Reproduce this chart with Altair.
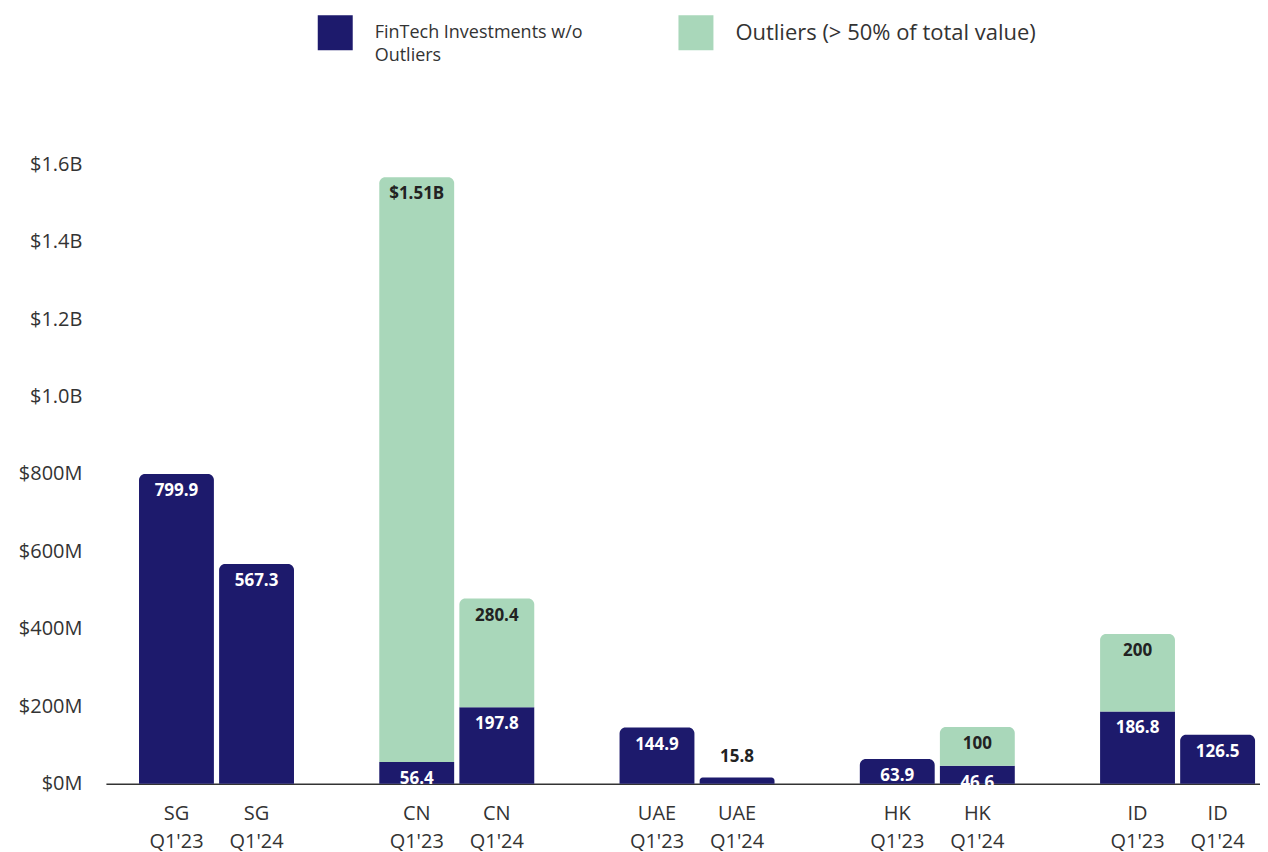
import altair as alt
import pandas as pd

countries = ["SG", "SG", "CN", "CN", "UAE", "UAE", "HK", "HK", "ID", "ID"]
quarters = ["Q1'23", "Q1'24"] * 5
base_vals = [799.9, 567.3, 56.4, 197.8, 144.9, 15.8, 63.9, 46.6, 186.8, 126.5]
outlier_vals = [0, 0, 1510, 280.4, 0, 0, 0, 100, 200, 0]
outlier_labels = ["", "", "$1.51B", "280.4", "", "", "", "100", "200", ""]
series_names = ["FinTech Investments w/o Outliers", "Outliers (> 50% of total value)"]
y_ticks = [0, 200, 400, 600, 800, 1000, 1200, 1400, 1600]

DARK = "#1d1a6c"
GREEN = "#a9d7ba"

# x domain with spacer slots between country groups
domain = []
seen = []
for c, q in zip(countries, quarters):
    if c not in seen:
        if seen:
            domain.append("gap" + str(len(seen)))
        seen.append(c)
    domain.append(c + "|" + q)

rows = []
for c, q, b, o, ol in zip(countries, quarters, base_vals, outlier_vals, outlier_labels):
    key = c + "|" + q
    rows.append(dict(key=key, series=series_names[0], lo=0, hi=b,
                     label=f"{b:g}", has_out=1 if o > 0 else 0, part="base"))
    if o > 0:
        rows.append(dict(key=key, series=series_names[1], lo=b, hi=b + o,
                         label=ol, has_out=1, part="out"))
df = pd.DataFrame(rows)

x_enc = alt.X("key:N", scale=alt.Scale(domain=domain, paddingInner=0.065,
                                       paddingOuter=0.2375, align=0.87),
              axis=alt.Axis(title=None, ticks=False, labelAngle=0, labelPadding=20,
                            labelFontSize=20, labelColor="#333333", labelFont="Open Sans",
                            labelLineHeight=28, domainColor="#333333", domainWidth=1.5,
                            labelExpr="indexof(datum.value, '|') > 0 ? split(datum.value, '|') : ''"))
y_enc = alt.Y("hi:Q", scale=alt.Scale(domain=[0, 1600]),
              axis=alt.Axis(title=None, values=y_ticks, grid=False, domain=False, ticks=False,
                            labelPadding=24, labelFontSize=20, labelColor="#333333",
                            labelFont="Open Sans",
                            labelExpr="datum.value >= 1000 ? '$' + format(datum.value/1000, '.1f') + 'B' : '$' + datum.value + 'M'"))

legend_common = dict(title=None, orient="none", symbolType="square", symbolSize=1225,
                     symbolStrokeWidth=0, symbolOpacity=1, labelColor="#333333",
                     labelFont="Open Sans", labelOffset=22, labelLimit=400)

color_dark = alt.Color("series:N", scale=alt.Scale(domain=[series_names[0]], range=[DARK]),
                       legend=alt.Legend(legendX=212, legendY=-149, labelFontSize=18,
                                         labelExpr="['FinTech Investments w/o', 'Outliers']",
                                         **legend_common))
color_dark_nolegend = alt.Color("series:N", scale=alt.Scale(domain=[series_names[0]], range=[DARK]),
                                legend=None)
color_green = alt.Color("series:N", scale=alt.Scale(domain=[series_names[1]], range=[GREEN]),
                        legend=alt.Legend(legendX=573, legendY=-149, labelFontSize=22,
                                          **legend_common))

base = alt.Chart(df).encode(x=x_enc)

dark_round = base.transform_filter("datum.part == 'base' && datum.has_out == 0").mark_bar(
    cornerRadiusTopLeft=6, cornerRadiusTopRight=6).encode(y=y_enc, y2="lo:Q", color=color_dark)
dark_flat = base.transform_filter("datum.part == 'base' && datum.has_out == 1").mark_bar().encode(
    y=y_enc, y2="lo:Q", color=color_dark_nolegend)
green = base.transform_filter("datum.part == 'out'").mark_bar(
    cornerRadiusTopLeft=6, cornerRadiusTopRight=6).encode(y=y_enc, y2="lo:Q", color=color_green)

txt_in = base.transform_filter("datum.part == 'base' && datum.hi >= 40").mark_text(
    baseline="top", dy=9, fontSize=17, fontWeight="bold", font="Open Sans", color="white"
).encode(y="hi:Q", text="label:N")
txt_above = base.transform_filter("datum.part == 'base' && datum.hi < 40").mark_text(
    baseline="bottom", dy=-12, fontSize=17, fontWeight="bold", font="Open Sans", color="#222222"
).encode(y="hi:Q", text="label:N")
txt_out = base.transform_filter("datum.part == 'out'").mark_text(
    baseline="top", dy=9, fontSize=17, fontWeight="bold", font="Open Sans", color="#222222"
).encode(y="hi:Q", text="label:N")

chart = alt.layer(dark_round, dark_flat, green, txt_in, txt_above, txt_out).resolve_scale(
    color="independent"
).properties(
    width=1155, height=620, padding={"left": 10, "top": 7, "right": 0, "bottom": 5}
).configure(
    style={"guide-label": {"lineHeight": 23}}
).configure_view(stroke=None)

chart.save("out.html", embed_options={"renderer": "svg", "actions": False})
